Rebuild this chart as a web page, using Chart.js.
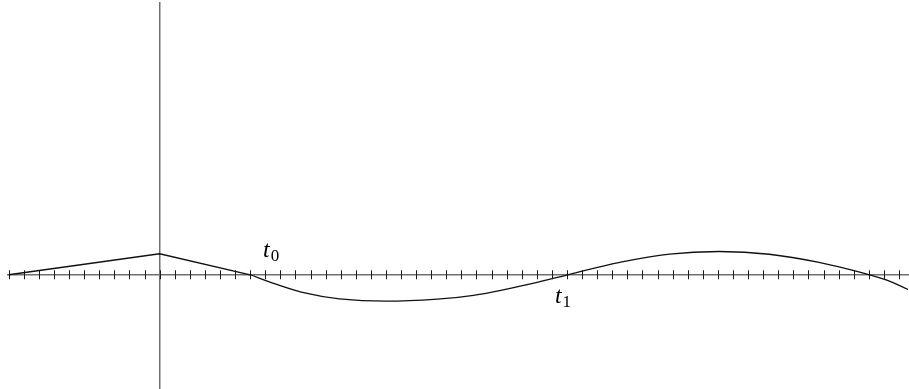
<!DOCTYPE html>
<html>
<head>
<meta charset="utf-8">
<script src="https://cdn.jsdelivr.net/npm/chart.js@4"></script>
<style>
    html, body { margin: 0; padding: 0; background: #fff; }
    #wrap { width: 909px; height: 389px; }
</style>
</head>
<body>
<div id="wrap"><canvas id="curveChart" width="909" height="389"></canvas></div>
<script>
// straight part of the curve (before t0)
const rampX = [-10, 0, 6];
const rampY = [0, 1.39, 0];

// smooth part of the curve
const waveX = [6, 7.5, 9.7, 11.9, 15.0, 18.6, 20.8, 23.0, 25.2, 27.05, 30.5, 33.8, 37.1, 40.4, 43.7, 47.05, 48.2, 49.6];
const waveY = [0, -0.55, -1.22, -1.6, -1.75, -1.6, -1.36, -0.95, -0.46, 0, 0.82, 1.37, 1.54, 1.36, 0.82, 0, -0.36, -0.97];

// tick marks on the horizontal axis
const xTicks = [-10, -9, -8, -7, -6, -5, -4, -3, -2, -1, 0, 1, 2, 3, 4, 5, 6, 7, 8, 9,
    10, 11, 12, 13, 14, 15, 16, 17, 18, 19, 20, 21, 22, 23, 24, 25, 26, 27, 28, 29,
    30, 31, 32, 33, 34, 35, 36, 37, 38, 39, 40, 41, 42, 43, 44, 45, 46, 47, 48, 49];

// the two labels
const labelSub = ['0', '1'];
const labelX = [6.85, 26.2];
const labelY = [1.17, -1.89];

function toPoints(xs, ys) {
    return xs.map((x, i) => ({ x: x, y: ys[i] }));
}

// crossing tick marks + t0 / t1 labels
const axisExtras = {
    id: 'axisExtras',
    beforeDatasetsDraw(chart) {
        const ctx = chart.ctx;
        const xs = chart.scales.x, ys = chart.scales.y;
        const y0 = ys.getPixelForValue(0);
        ctx.save();
        ctx.strokeStyle = '#1a1a1a';
        ctx.lineWidth = 1;
        xs.ticks.forEach(t => {
            const px = Math.round(xs.getPixelForValue(t.value)) + 0.5;
            ctx.beginPath();
            ctx.moveTo(px, y0 - 4.5);
            ctx.lineTo(px, y0 + 4.5);
            ctx.stroke();
        });
        ctx.restore();
    },
    afterDatasetsDraw(chart) {
        const ctx = chart.ctx;
        const xs = chart.scales.x, ys = chart.scales.y;
        ctx.save();
        ctx.fillStyle = '#000';
        ctx.textBaseline = 'alphabetic';
        labelSub.forEach((s, i) => {
            const px = xs.getPixelForValue(labelX[i]);
            const py = ys.getPixelForValue(labelY[i]);
            ctx.font = 'italic 24px "Liberation Serif", "DejaVu Serif", serif';
            ctx.fillText('t', px, py);
            const w = ctx.measureText('t').width;
            ctx.font = '17px "Liberation Serif", "DejaVu Serif", serif';
            ctx.fillText(s, px + w + 1, py + 4);
        });
        ctx.restore();
    }
};

const config = {
    type: 'line',
    data: {
        datasets: [{
            data: toPoints(rampX, rampY),
            borderColor: '#111',
            borderWidth: 1.3,
            pointRadius: 0,
            tension: 0
        }, {
            data: toPoints(waveX, waveY),
            borderColor: '#111',
            borderWidth: 1.3,
            pointRadius: 0,
            tension: 0.4
        }]
    },
    options: {
        responsive: false,
        animation: false,
        events: [],
        layout: { padding: { left: 8, right: 1, top: 3, bottom: 1 } },
        plugins: { legend: { display: false }, tooltip: { enabled: false } },
        scales: {
            x: {
                type: 'linear',
                min: -10.05,
                max: 49.6,
                position: { y: 0 },
                afterBuildTicks: s => { s.ticks = xTicks.map(v => ({ value: v })); },
                ticks: { display: false },
                grid: { display: false },
                border: { display: true, color: '#707070', width: 1.5 }
            },
            y: {
                type: 'linear',
                min: -7.5,
                max: 18,
                position: { x: 0 },
                ticks: { display: false },
                grid: { display: false },
                border: { display: true, color: '#707070', width: 1.5 }
            }
        }
    },
    plugins: [axisExtras]
};

const ctx = document.getElementById('curveChart').getContext('2d');
const curveChart = new Chart(ctx, config);
</script>
</body>
</html>
